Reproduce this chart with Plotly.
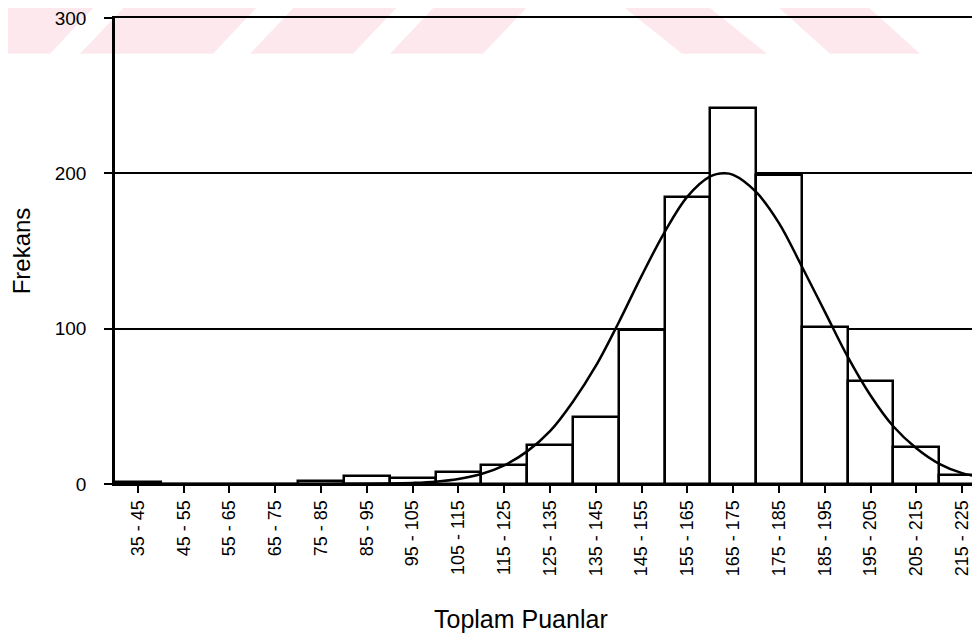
import plotly.graph_objects as go

# Score classes (histogram bins) and their frequencies
class_labels = ["35 - 45", "45 - 55", "55 - 65", "65 - 75", "75 - 85", "85 - 95",
                "95 - 105", "105 - 115", "115 - 125", "125 - 135", "135 - 145",
                "145 - 155", "155 - 165", "165 - 175", "175 - 185", "185 - 195",
                "195 - 205", "205 - 215", "215 - 225"]
class_mids = [40, 50, 60, 70, 80, 90, 100, 110, 120, 130, 140, 150, 160, 170,
              180, 190, 200, 210, 220]
frequencies = [1, 0, 0, 0, 2, 5, 4, 8, 12, 25, 43, 99, 185, 242, 199, 101, 66, 24, 6]

# Fitted normal curve
curve_x = [35, 45, 55, 65, 75, 85, 95, 100, 105, 110, 115, 120, 125, 130, 135, 140,
           145, 150, 155, 160, 165, 168, 170, 175, 180, 185, 190, 195, 200, 205,
           210, 215, 220, 225]
curve_y = [0, 0, 0, 0, 0, 0.1, 0.3, 0.7, 1.5, 3.2, 6.4, 12, 21, 34, 53, 76,
           104, 134, 162, 185, 198, 200, 199, 188, 168, 140, 111, 82, 57, 37,
           23, 13, 7, 4]

y_ticks = [0, 100, 200, 300]

FONT = "Liberation Sans, Arial, sans-serif"

fig = go.Figure()
fig.add_trace(go.Bar(
    x=class_mids, y=frequencies, width=10,
    marker=dict(color="white", line=dict(color="black", width=2.5)),
    showlegend=False,
))
fig.add_trace(go.Scatter(
    x=curve_x, y=curve_y, mode="lines", line=dict(color="black", width=2.5, shape="spline"),
    showlegend=False,
))

# page body has an 8px margin: window coords -> figure coords
OFF = 8
L, R, T, B = 115, 980, 14, 484          # plot area in window pixels
def px(xp):
    return (xp - L) / (R - L)
def py(yp):
    return (B - yp) / (B - T)

# faint watermark stripes at the top of the page (window pixels)
stripes = [((0, 97), -47), ((127, 260), -47), ((297, 400), -47), ((437, 530), -47),
           ((620, 705), 62), ((775, 865), 55)]
shapes = []
for (a, b), shift in stripes:
    path = "M {} {} L {} {} L {} {} L {} {} Z".format(
        px(a), py(0), px(b), py(0), px(b + shift), py(50), px(a + shift), py(50))
    shapes.append(dict(type="path", xref="paper", yref="paper", path=path,
                       fillcolor="rgb(253,233,237)", line=dict(width=0), layer="below"))

W, H = 980 - OFF, 639 - OFF
fig.update_layout(
    width=W, height=H,
    margin=dict(l=L - OFF, r=0, t=T - OFF, b=H - (B - OFF), pad=0),
    paper_bgcolor="white", plot_bgcolor="white",
    font=dict(family=FONT, color="black", size=18),
    bargap=0,
    shapes=shapes,
    xaxis=dict(
        range=[35, 223.9],
        tickmode="array", tickvals=class_mids, ticktext=class_labels,
        tickangle=-90, tickfont=dict(size=18, family=FONT, color="black"),
        ticks="outside", ticklen=7, tickwidth=2, tickcolor="black",
        showline=True, linecolor="black", linewidth=2, mirror=True,
        showgrid=False, zeroline=False,
    ),
    yaxis=dict(
        range=[0, 300],
        tickmode="array", tickvals=y_ticks,
        tickfont=dict(size=19, family=FONT, color="black"),
        ticks="outside", ticklen=8, tickwidth=2, tickcolor="black",
        ticklabelstandoff=14, ticklabeloverflow="allow",
        showline=True, linecolor="black", linewidth=2.5,
        showgrid=True, gridcolor="black", gridwidth=2,
        zeroline=False,
        title=dict(text="Frekans", font=dict(size=24, family=FONT), standoff=22),
    ),
    annotations=[dict(
        text="Toplam Puanlar", xref="paper", yref="paper",
        x=px(521), y=py(620), xanchor="center", yanchor="middle",
        showarrow=False, font=dict(size=25, family=FONT, color="black"),
    )],
)

fig.write_html("out.html")
